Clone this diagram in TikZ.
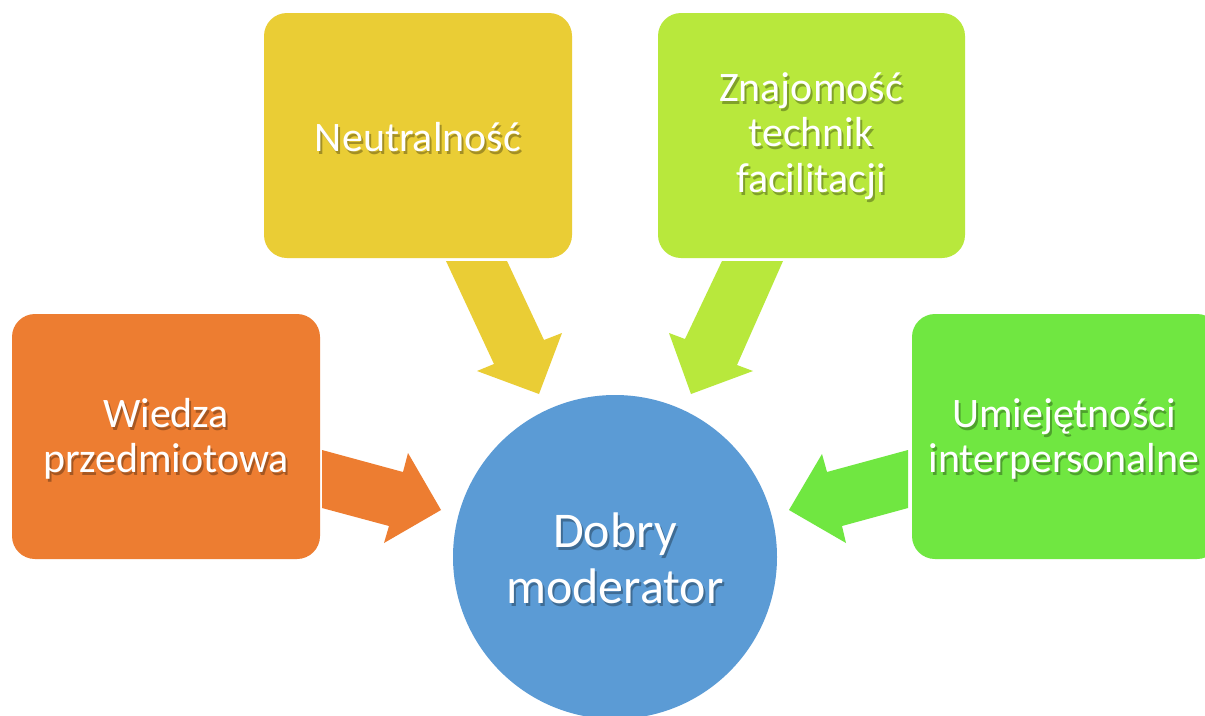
\documentclass[tikz,border=0pt]{standalone}
\usepackage{fontspec}
\setmainfont{Carlito}
\definecolor{corange}{HTML}{ED7D31}
\definecolor{cyellow}{HTML}{EACD35}
\definecolor{clime}{HTML}{B8E83C}
\definecolor{cgreen}{HTML}{70E741}
\definecolor{cblue}{HTML}{5B9BD5}
\newcommand{\shtext}[4][txt]{%
  \node[#1, text=black, opacity=0.3] at ([shift={(2,3)}]#2) {#4};
  \node[#1] (#3) at (#2) {#4};}
\tikzset{
  box/.style={rounded corners=23pt, inner sep=0pt},
  txt/.style={text=white, align=center, font=\fontsize{42}{45.5}\selectfont, inner sep=0pt},
  bigtxt/.style={txt, font=\fontsize{50}{56}\selectfont},
}
\begin{document}
\begin{tikzpicture}[x=1pt,y=-1pt]
\useasboundingbox (0,0) rectangle (1205,715);
\clip (0,0) rectangle (1205,715);
\fill[white] (0,0) rectangle (1205,715);
% boxes
\fill[corange, box] (12,314) rectangle (320,559);
\fill[cyellow, box] (264,13) rectangle (572,258);
\fill[clime, box] (658,13) rectangle (965,258);
\fill[cgreen, box] (912,314) rectangle (1220,559);
% circle
\fill[cblue] (615,557) circle (162);
% arrows
\fill[corange] (322,450) -- (403,472) -- (408,453) -- (441,510) -- (384,543) -- (389,526) -- (322,508) -- cycle;
\fill[cyellow] (446,261) -- (507,261) -- (544,340) -- (562,333) -- (539,394) -- (477,371) -- (494,364) -- cycle;
\fill[clime] (783,261) -- (722,261) -- (685,339) -- (669,333) -- (691,394) -- (753,371) -- (737,365) -- cycle;
\fill[cgreen] (908,450) -- (908,508) -- (842,526) -- (846,543) -- (789,510) -- (822,454) -- (827,472) -- cycle;
% texts
\coordinate (pw) at (166,439);
\coordinate (pn) at (418,137);
\coordinate (pz) at (811,136);
\coordinate (pu) at (1064,439);
\coordinate (pd) at (615,558);
\shtext{pw}{tw}{Wiedza\\przedmiotowa}
\shtext{pn}{tn}{Neutralność}
\shtext{pz}{tz}{Znajomość\\technik\\facilitacji}
\shtext{pu}{tu}{Umiejętności\\interpersonalne}
\shtext[bigtxt]{pd}{td}{Dobry\\moderator}
\end{tikzpicture}
\end{document}
